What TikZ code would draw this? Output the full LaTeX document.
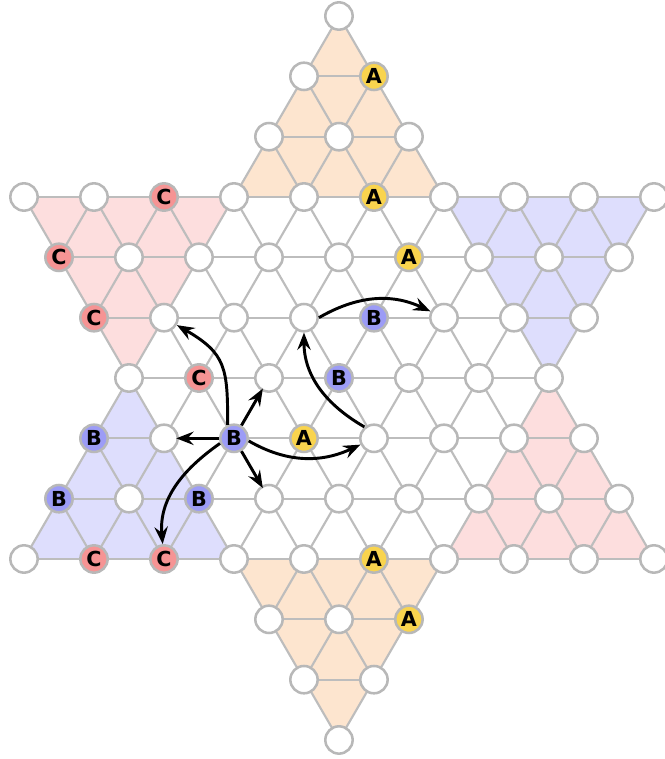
\documentclass[tikz,border=0pt]{standalone}
\usepackage{fontspec}
\setmainfont{DejaVu Sans}
\usetikzlibrary{arrows.meta}
\definecolor{edgegray}{HTML}{BDBDBD}
\definecolor{ringgray}{HTML}{B8B8B8}
\definecolor{fillpink}{HTML}{FDDEDE}
\definecolor{fillblue}{HTML}{DEDEFD}
\definecolor{fillorange}{HTML}{FDE5CF}
\definecolor{pieceA}{HTML}{F9D44E}
\definecolor{pieceB}{HTML}{9C9CF6}
\definecolor{pieceC}{HTML}{F69494}
\def\setpiece#1#2#3{\expandafter\def\csname pc:#1:#2\endcsname{#3}}
\setpiece{1}{-5}{A}\setpiece{1}{-3}{A}\setpiece{2}{-2}{A}\setpiece{-1}{1}{A}\setpiece{1}{3}{A}\setpiece{2}{4}{A}
\setpiece{1}{-1}{B}\setpiece{0}{0}{B}\setpiece{-7}{1}{B}\setpiece{-3}{1}{B}\setpiece{-8}{2}{B}\setpiece{-4}{2}{B}
\setpiece{-5}{-3}{C}\setpiece{-8}{-2}{C}\setpiece{-7}{-1}{C}\setpiece{-4}{0}{C}\setpiece{-7}{3}{C}\setpiece{-5}{3}{C}
\begin{document}
\begin{tikzpicture}[x=52.5pt,y=-45.25pt,
  hole/.style={circle,draw=ringgray,fill=white,line width=1.9pt,minimum size=20.5pt,inner sep=0pt,
    font=\fontsize{15.5pt}{16pt}\selectfont\bfseries},
  grid/.style={draw=edgegray,line width=1.6pt},
  move/.style={-{Stealth[length=13pt,width=10pt,inset=4.5pt]},line width=2.2pt,black},
  tri/.style={draw=none}
]
\useasboundingbox (-4.8429,-6.2655) rectangle (4.6571,6.3153);
% lattice coordinates
\foreach \R in {-6,...,6}{%
  \pgfmathtruncatemacro\W{(abs(\R)<=3) ? (6+abs(\R)) : (6-abs(\R))}%
  \foreach \i in {0,...,\W}{%
    \pgfmathtruncatemacro\X{-\W+2*\i}%
    \coordinate (c\X_\R) at (\X/2,\R);
  }%
}
% home triangles
\fill[fillorange] (c0_-6) -- (c-3_-3) -- (c3_-3) -- cycle;
\fill[fillorange] (c0_6) -- (c-3_3) -- (c3_3) -- cycle;
\fill[fillpink] (c-9_-3) -- (c-3_-3) -- (c-6_0) -- cycle;
\fill[fillpink] (c9_3) -- (c3_3) -- (c6_0) -- cycle;
\fill[fillblue] (c9_-3) -- (c3_-3) -- (c6_0) -- cycle;
\fill[fillblue] (c-9_3) -- (c-3_3) -- (c-6_0) -- cycle;
% lattice edges
\foreach \R in {-6,...,6}{%
  \pgfmathtruncatemacro\W{(abs(\R)<=3) ? (6+abs(\R)) : (6-abs(\R))}%
  \pgfmathtruncatemacro\Rn{\R+1}%
  \pgfmathtruncatemacro\Wn{(abs(\Rn)<=3) ? (6+abs(\Rn)) : (6-abs(\Rn))}%
  \foreach \i in {0,...,\W}{%
    \pgfmathtruncatemacro\X{-\W+2*\i}%
    \pgfmathtruncatemacro\Xr{\X+2}%
    \pgfmathtruncatemacro\Xl{\X-1}%
    \pgfmathtruncatemacro\Xd{\X+1}%
    \ifnum\Xr>\W\relax\else \draw[grid] (c\X_\R) -- (c\Xr_\R);\fi
    \pgfmathtruncatemacro\okl{abs(\Xl)<=\Wn}%
    \ifnum\okl=1 \draw[grid] (c\X_\R) -- (c\Xl_\Rn);\fi
    \pgfmathtruncatemacro\okr{abs(\Xd)<=\Wn}%
    \ifnum\okr=1 \draw[grid] (c\X_\R) -- (c\Xd_\Rn);\fi
  }%
}
% holes and pieces
\foreach \R in {-6,...,6}{%
  \pgfmathtruncatemacro\W{(abs(\R)<=3) ? (6+abs(\R)) : (6-abs(\R))}%
  \foreach \i in {0,...,\W}{%
    \pgfmathtruncatemacro\X{-\W+2*\i}%
    \ifcsname pc:\X:\R\endcsname
      \edef\pl{\csname pc:\X:\R\endcsname}%
      \node[hole,fill=piece\pl] (n\X_\R) at (c\X_\R) {\pl};
    \else
      \node[hole] (n\X_\R) at (c\X_\R) {};
    \fi
  }%
}
% moves
\draw[move,shorten >=-2pt] (n-3_1) -- (n-2_0);
\draw[move,shorten >=-2pt] (n-3_1) -- (n-5_1);
\draw[move,shorten >=-2pt] (n-3_1) -- (n-2_2);
\draw[move] (n-3_1.115) to[out=90,in=-30,looseness=1.3] (n-5_-1);
\draw[move] (n-3_1.200) to[out=215,in=95] (n-5_3);
\draw[move] (n-3_1.-10) to[out=-30,in=205] (n1_1);
\draw[move] (n1_1.130) to[out=150,in=-90] (n-1_-1);
\draw[move] (n-1_-1.0) to[out=30,in=155] (n3_-1);
\end{tikzpicture}
\end{document}
